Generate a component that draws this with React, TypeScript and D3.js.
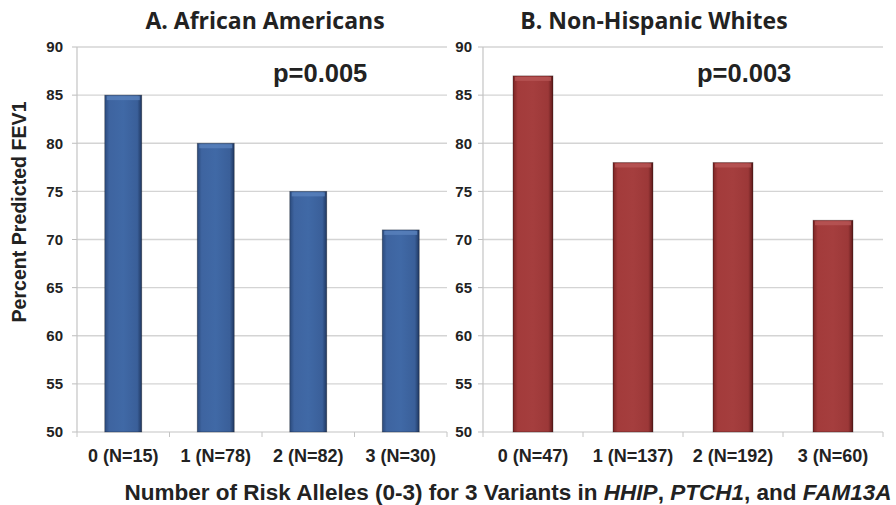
import React from "react";
import * as d3 from "d3";

const categoriesA = ["0 (N=15)", "1 (N=78)", "2 (N=82)", "3 (N=30)"];
const valuesA = [85, 80, 75, 71];
const categoriesB = ["0 (N=47)", "1 (N=137)", "2 (N=192)", "3 (N=60)"];
const valuesB = [87, 78, 78, 72];
const yTicks = [50, 55, 60, 65, 70, 75, 80, 85, 90];
const titleA = "A. African Americans";
const titleB = "B. Non-Hispanic Whites";
const pA = "p=0.005";
const pB = "p=0.003";
const yTitle = "Percent Predicted FEV1";

const W = 896;
const H = 505;
const yTop = 47;
const yBottom = 432;

const ARIAL = "'Liberation Sans', Arial, sans-serif";

type PanelProps = {
  x0: number;
  x1: number;
  cats: string[];
  vals: number[];
  title: string;
  titleX: number;
  pText: string;
  pX: number;
  grad: string;
  cap: string;
  labelGap: number;
};

function Panel({ x0, x1, cats, vals, title, titleX, pText, pX, grad, cap, labelGap }: PanelProps) {
  const y = d3.scaleLinear().domain([50, 90]).range([yBottom, yTop]);
  const x = d3.scaleBand<string>().domain(cats).range([x0, x1]).paddingInner(0.6).paddingOuter(0.3);
  const step = (x1 - x0) / cats.length;
  const edges = d3.range(cats.length + 1).map((i) => x0 + i * step);
  return (
    <g>
      {yTicks.map((t) => (
        <g key={t}>
          {t !== 50 && (
            <line x1={x0} x2={x1} y1={y(t)} y2={y(t)} stroke="#d4d4d4" strokeWidth={1.3} />
          )}
          <line x1={x0 - 5} x2={x0} y1={y(t)} y2={y(t)} stroke="#bdbdbd" strokeWidth={1} />
          <text x={x0 - labelGap} y={y(t)} dy="0.35em" textAnchor="end" fontFamily={ARIAL} fontWeight={700} fontSize={15} fill="#222">
            {t}
          </text>
        </g>
      ))}
      <line x1={x0} x2={x0} y1={yTop} y2={yBottom} stroke="#c4c4c4" strokeWidth={1.2} />
      <line x1={x0} x2={x1} y1={yBottom} y2={yBottom} stroke="#c4c4c4" strokeWidth={1.2} />
      {edges.map((e, i) => (
        <line key={i} x1={e} x2={e} y1={yBottom} y2={yBottom + 5} stroke="#c4c4c4" strokeWidth={1} />
      ))}
      {cats.map((c, i) => {
        const bx = x(c)!;
        const bw = x.bandwidth();
        const by = y(vals[i]);
        return (
          <g key={c}>
            <rect x={bx} y={by} width={bw} height={yBottom - by} fill={`url(#${grad})`} />
            <rect x={bx + 2} y={by + 1} width={bw - 4} height={4} fill={cap} opacity={0.8} />
            <rect x={bx} y={by} width={bw} height={yBottom - by} fill="none" stroke="rgba(0,0,0,0.35)" strokeWidth={0.8} />
          </g>
        );
      })}
      {cats.map((c) => (
        <text key={c + "l"} x={x(c)! + x.bandwidth() / 2} y={462} textAnchor="middle" fontFamily={ARIAL} fontWeight={700} fontSize={18} fill="#222">
          {c}
        </text>
      ))}
      <text x={titleX} y={29} textAnchor="middle" fontFamily="'Open Sans', sans-serif" fontWeight={700} fontSize={23} fill="#222">
        {title}
      </text>
      <text x={pX} y={82} textAnchor="start" fontFamily={ARIAL} fontWeight={700} fontSize={25.5} fill="#222">
        {pText}
      </text>
    </g>
  );
}

export default function App() {
  return (
    <svg width={W} height={H} style={{ position: "absolute", left: 0, top: 0, background: "#fff" }}>
      <defs>
        <linearGradient id="gBlue" x1="0" x2="1" y1="0" y2="0">
          <stop offset="0" stopColor="#2b4a7c" />
          <stop offset="0.12" stopColor="#3e64a0" />
          <stop offset="0.5" stopColor="#4069a6" />
          <stop offset="0.88" stopColor="#3a5f99" />
          <stop offset="1" stopColor="#1f3760" />
        </linearGradient>
        <linearGradient id="gRed" x1="0" x2="1" y1="0" y2="0">
          <stop offset="0" stopColor="#7a2424" />
          <stop offset="0.12" stopColor="#a33b3b" />
          <stop offset="0.5" stopColor="#a53e3e" />
          <stop offset="0.88" stopColor="#9c3838" />
          <stop offset="1" stopColor="#5e1a1a" />
        </linearGradient>
      </defs>
      <Panel x0={77} x1={447} cats={categoriesA} vals={valuesA} title={titleA} titleX={265} pText={pA} pX={273} grad="gBlue" cap="#5a82bd" labelGap={14} />
      <Panel x0={483} x1={883} cats={categoriesB} vals={valuesB} title={titleB} titleX={654} pText={pB} pX={697} grad="gRed" cap="#b85656" labelGap={11} />
      <text transform="translate(26,212) rotate(-90)" textAnchor="middle" fontFamily={ARIAL} fontWeight={700} fontSize={19.6} fill="#222">
        {yTitle}
      </text>
      <text x={508} y={500} textAnchor="middle" fontFamily={ARIAL} fontWeight={700} fontSize={22.5} fill="#222">
        <tspan>Number of Risk Alleles (0-3) for 3 Variants in </tspan>
        <tspan fontStyle="italic">HHIP</tspan>
        <tspan>, </tspan>
        <tspan fontStyle="italic">PTCH1</tspan>
        <tspan>, and </tspan>
        <tspan fontStyle="italic">FAM13A</tspan>
      </text>
    </svg>
  );
}
